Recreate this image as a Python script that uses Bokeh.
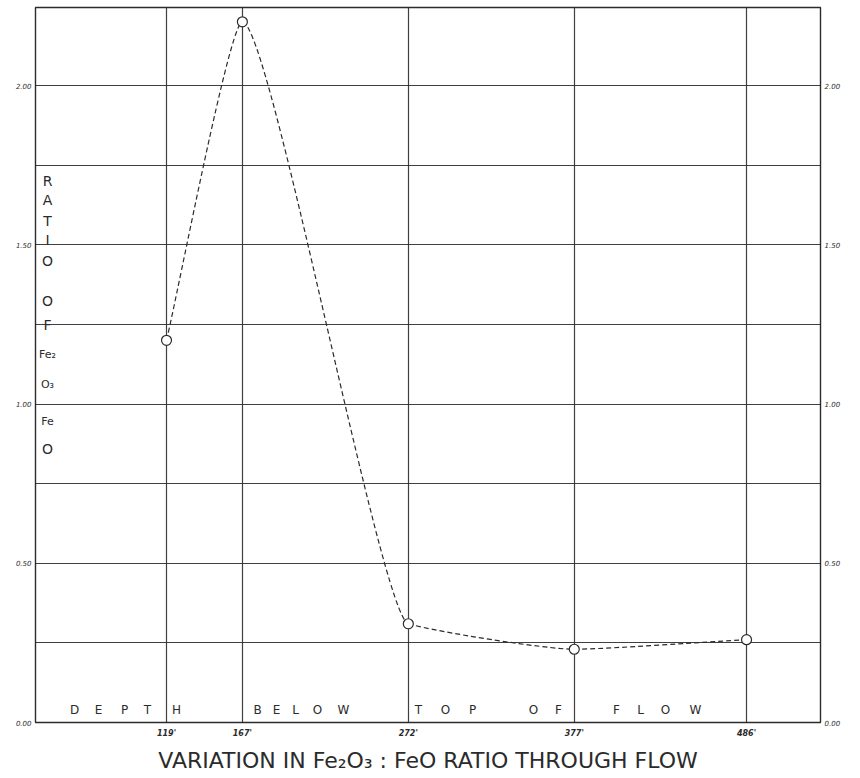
from bokeh.plotting import figure
from bokeh.models import FixedTicker, LinearAxis, Label, Title, Range1d, ColumnDataSource
from bokeh.embed import file_html
from bokeh.resources import INLINE
import numpy as np

# ---- data ----
depth_ft = [119, 167, 272, 377, 486]
ratio = [1.20, 2.20, 0.31, 0.23, 0.26]
depth_labels = ["119'", "167'", "272'", "377'", "486'"]
y_label_ticks = [0.0, 0.5, 1.0, 1.5, 2.0]
y_label_text = ["0.00", "0.50", "1.00", "1.50", "2.00"]
y_grid_ticks = [0.0, 0.25, 0.5, 0.75, 1.0, 1.25, 1.5, 1.75, 2.0, 2.25]
title_text = "VARIATION IN Fe₂O₃ : FeO RATIO THROUGH FLOW"

INK = "#2b2b2b"
FONT = "DejaVu Sans"

X0, X1 = 36.1, 532.8
Y0, Y1 = 0.0, 2.245

p = figure(width=852, height=777, output_backend="svg", toolbar_location=None,
           x_range=Range1d(X0, X1), y_range=Range1d(Y0, Y1),
           min_border_left=35, min_border_right=32, min_border_top=7, min_border_bottom=55,
           background_fill_color="white", border_fill_color="white")

p.outline_line_color = INK
p.outline_line_width = 1.4

# grids
p.xgrid.ticker = FixedTicker(ticks=depth_ft)
p.ygrid.ticker = FixedTicker(ticks=y_grid_ticks)
for g in (p.xgrid, p.ygrid):
    g.grid_line_color = INK
    g.grid_line_width = 1.2
    g.grid_line_alpha = 0.9

# x axis
xa = p.xaxis[0]
xa.ticker = FixedTicker(ticks=depth_ft)
xa.major_label_overrides = {d: l for d, l in zip(depth_ft, depth_labels)}
xa.major_label_text_font = FONT
xa.major_label_text_font_style = "bold italic"
xa.major_label_text_font_size = "8px"
xa.major_label_text_color = INK
xa.major_tick_out = 0
xa.major_tick_in = 0
xa.minor_tick_out = 0
xa.minor_tick_in = 0
xa.axis_line_color = None
xa.major_label_standoff = 6

def style_y(ax):
    ax.ticker = FixedTicker(ticks=y_label_ticks)
    ax.major_label_overrides = {t: s for t, s in zip(y_label_ticks, y_label_text)}
    ax.major_label_text_font = FONT
    ax.major_label_text_font_style = "italic"
    ax.major_label_text_font_size = "7px"
    ax.major_label_text_color = INK
    ax.major_tick_out = 0
    ax.major_tick_in = 0
    ax.minor_tick_out = 0
    ax.minor_tick_in = 0
    ax.axis_line_color = None
    ax.major_label_standoff = 4

style_y(p.yaxis[0])
ry = LinearAxis()
style_y(ry)
p.add_layout(ry, "right")

# smooth dashed curve through the points (monotone tangents, short bezier handles)
xs = np.array(depth_ft, dtype=float)
ys = np.array(ratio, dtype=float)
h = np.diff(xs)
d = np.diff(ys) / h
n = len(xs)
m = np.zeros(n)
for k in range(1, n - 1):
    if d[k - 1] * d[k] > 0:
        w1 = 2 * h[k] + h[k - 1]
        w2 = h[k] + 2 * h[k - 1]
        m[k] = (w1 + w2) / (w1 / d[k - 1] + w2 / d[k])
m[0] = d[0]
m[-1] = d[-1]
hl = h / 6.0  # handle length

seg = ColumnDataSource(dict(
    x0=xs[:-1], y0=ys[:-1], x1=xs[1:], y1=ys[1:],
    cx0=xs[:-1] + hl, cy0=ys[:-1] + m[:-1] * hl,
    cx1=xs[1:] - hl, cy1=ys[1:] - m[1:] * hl,
))
p.bezier(x0="x0", y0="y0", x1="x1", y1="y1", cx0="cx0", cy0="cy0", cx1="cx1", cy1="cy1",
         source=seg, line_color=INK, line_width=1.2, line_dash="5 3")

p.scatter(depth_ft, ratio, marker="circle", size=10, fill_color="white",
          line_color=INK, line_width=1.2)

# page-pixel helpers for hand-lettered annotations
def px2x(px):
    return X0 + (px - 35) / 1.5804

def py2y(py):
    return (722 - py) * 0.25 / 79.4

# vertical y-axis lettering
y_letters = ["R", "A", "T", "I", "O", "O", "F", "Fe₂", "O₃", "Fe", "O"]
y_letter_py = [182, 201, 222, 241, 262, 302, 326, 355, 385, 422, 449]
for t, py in zip(y_letters, y_letter_py):
    p.add_layout(Label(x=px2x(47), y=py2y(py), text=t, text_font=FONT,
                       text_font_size="14px" if len(t) == 1 else "11px",
                       text_color=INK, text_align="center", text_baseline="middle"))

# x-axis lettering inside plot
x_letters = list("DEPTH") + list("BELOW") + list("TOP") + list("OF") + list("FLOW")
x_letter_px = [74, 98, 124, 147, 176,
               257, 276, 295, 317, 343,
               418, 445, 472,
               533, 558,
               616, 640, 665, 695]
for t, px in zip(x_letters, x_letter_px):
    p.add_layout(Label(x=px2x(px), y=py2y(710), text=t, text_font=FONT,
                       text_font_size="12px", text_color=INK,
                       text_align="center", text_baseline="middle"))

title = Title(text=title_text, align="center",
              text_font=FONT, text_font_size="22px", text_font_style="normal",
              text_color=INK, standoff=10)
p.add_layout(title, "below")

open("out.html", "w").write(file_html(p, INLINE))
